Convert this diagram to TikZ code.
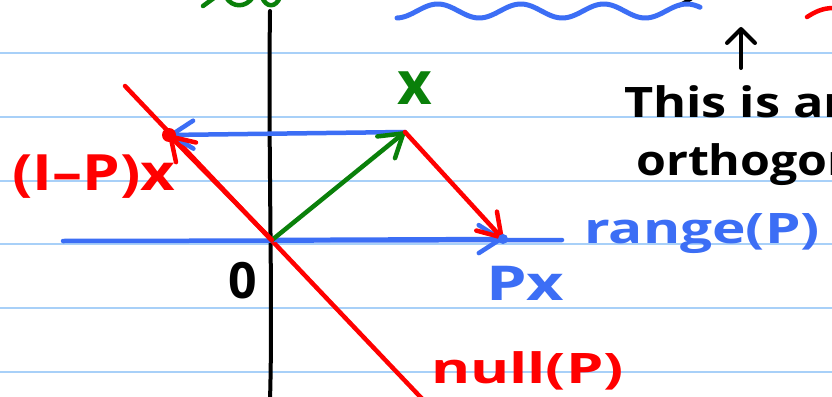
\documentclass[tikz,border=0pt]{standalone}
\usepackage{fontspec}
\setmainfont{Open Sans}
\usepackage{tikz}
\usetikzlibrary{arrows.meta}
\usepackage{xcolor}

\definecolor{penred}{RGB}{255,0,0}
\definecolor{penblue}{RGB}{60,110,245}
\definecolor{pengreen}{RGB}{10,128,10}
\definecolor{ruling}{RGB}{168,208,248}

\begin{document}
\begin{tikzpicture}[x=1pt, y=-1pt, line cap=round, line join=round,
  pen/.style={line width=4.5pt},
  barb/.style={-{Straight Barb[length=22pt,width=28pt,round]}},
  hand/.style={inner sep=0pt, anchor=base west}]
\useasboundingbox (0,0) rectangle (832,396);
\clip (0,0) rectangle (832,396);
% --- paper ---
\fill[white] (0,0) rectangle (832,396);
\foreach \y in {53,117,181,244,308,372}
  {\draw[ruling, line width=2pt] (0,\y) -- (832,\y);}
% --- scraps of the line above ---
\draw[pen, pengreen] (203,6) .. controls (208,2) .. (214,-2);
\draw[pen, pengreen] (226,-3) .. controls (232,8) and (246,8) .. (253,-3);
\draw[pen, pengreen] (262,-3) .. controls (266,8) and (276,8) .. (280,-3);
\draw[line width=4pt] (678,6) .. controls (684,3) .. (692,-2);
\draw[pen, penred] (807,17) .. controls (815,12) and (822,8) .. (834,8);
\draw[pen, penblue, line width=5pt] plot[domain=397:700, samples=120] (\x, {11-7*sin((\x-417)*4.337)});
% --- axes ---
\coordinate (O) at (272,240); \coordinate (X) at (405,132);
\coordinate (PX) at (503,239); \coordinate (IPX) at (169,135);
\coordinate (aT) at (270,11); \coordinate (aB) at (270,400);
\coordinate (rL) at (63,241); \coordinate (rR) at (562,240);
\coordinate (nT) at (125,86); \coordinate (nB) at (428,405);
\draw[line width=4pt] (aT) .. controls (268,150) and (273,300) .. (aB);
\draw[pen, penblue] (rL) -- (rR);
\draw[pen, penred] (nT) -- (nB);
% --- vectors ---
\draw[pen, penblue, barb] (O) -- (PX);
\draw[pen, penblue, barb] (X) -- (IPX);
\draw[pen, pengreen, barb] (O) -- (X);
\draw[pen, penred, barb] (X) -- (PX);
\draw[pen, penred, barb] (O) -- (IPX);
\fill[penred] (IPX) circle (7pt);
\fill[penblue] (PX) circle (5pt);
% --- labels ---
\node[hand, text=pengreen, font=\bfseries\fontsize{60}{70}\selectfont] (xlab) at (397,104) {x};
\node[hand, font=\bfseries\fontsize{50}{60}\selectfont] (zero) at (228,298) {0};
\node[hand, text=penblue, font=\bfseries\fontsize{48}{60}\selectfont] (pxlab) at (486,300) {\scalebox{1.35}[1]{Px}};
\node[hand, text=penred, font=\bfseries\fontsize{50}{60}\selectfont] (ipxlab) at (12,190) {\scalebox{1.2}[1]{(I–P)x}};
\node[hand, text=penblue, font=\bfseries\fontsize{42}{50}\selectfont] (range) at (584,243) {\scalebox{1.35}[1]{range(P)}};
\node[hand, text=penred, font=\bfseries\fontsize{42}{50}\selectfont] (null) at (431,383) {\scalebox{1.42}[1]{null(P)}};
\node[hand, font=\bfseries\fontsize{42}{50}\selectfont] (note1) at (624,117) {\scalebox{1.2}[1]{This is an}};
\node[hand, font=\bfseries\fontsize{42}{50}\selectfont] (note2) at (636,175) {\scalebox{1.15}[1]{orthogonal}};
\coordinate (upS) at (741,68); \coordinate (upT) at (741,27);
\draw[line width=4pt, -{Straight Barb[length=14pt,width=28pt,round]}] (upS) -- (upT);
\end{tikzpicture}
\end{document}
